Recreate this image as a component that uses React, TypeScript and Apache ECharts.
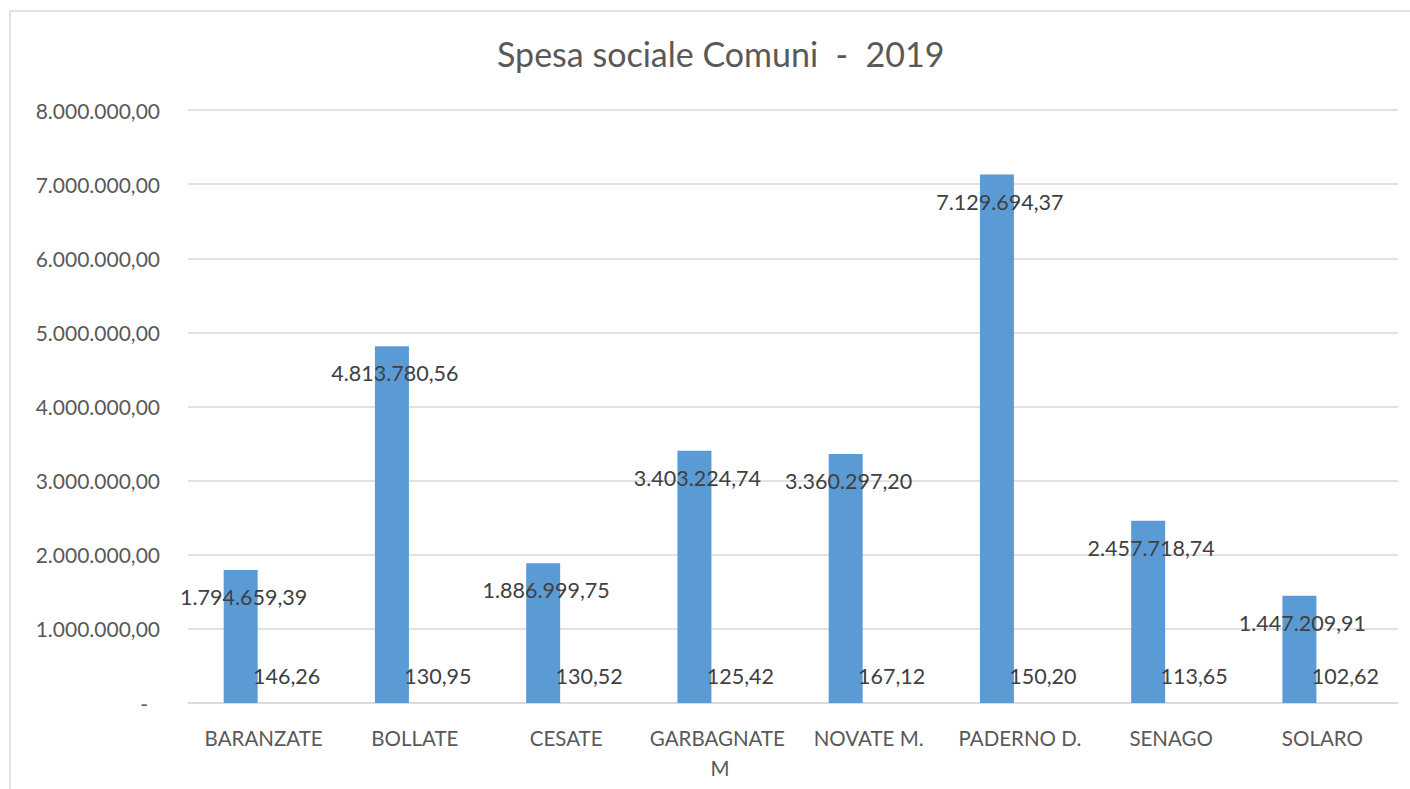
import React, { useEffect, useRef } from "react";
import * as echarts from "echarts";

const categories = [
  "BARANZATE",
  "BOLLATE",
  "CESATE",
  "GARBAGNATE M",
  "NOVATE M.",
  "PADERNO D.",
  "SENAGO",
  "SOLARO",
];
const spesaTotale = [
  1794659.39, 4813780.56, 1886999.75, 3403224.74, 3360297.2, 7129694.37,
  2457718.74, 1447209.91,
];
const spesaProCapite = [146.26, 130.95, 130.52, 125.42, 167.12, 150.2, 113.65, 102.62];
const titleText = "Spesa sociale Comuni  -  2019";

function fmtIt(v: number): string {
  const neg = v < 0;
  const abs = Math.abs(v);
  const fixed = abs.toFixed(2);
  const [ip, dp] = fixed.split(".");
  const withDots = ip.replace(/\B(?=(\d{3})+(?!\d))/g, ".");
  return (neg ? "-" : "") + withDots + "," + dp;
}

const FONT = "Lato, 'Liberation Sans', sans-serif";

export default function App() {
  const ref = useRef<HTMLDivElement>(null);
  useEffect(() => {
    if (!ref.current) return;
    const chart = echarts.init(ref.current, null, { renderer: "svg" });
    chart.setOption({
      animation: false,
      backgroundColor: "#ffffff",
      textStyle: { fontFamily: FONT },
      title: {
        text: titleText,
        left: 492,
        top: 31,
        textStyle: { fontFamily: FONT, fontSize: 34, fontWeight: "normal", color: "#595959" },
      },
      graphic: [
        {
          type: "rect",
          shape: { x: 10, y: 11, width: 1420, height: 800 },
          style: { fill: "none", stroke: "#d9d9d9", lineWidth: 1.5 },
          silent: true,
          z: -1,
        },
      ],
      grid: { left: 188, right: 12, top: 110, bottom: 86, containLabel: false },
      xAxis: {
        type: "category",
        data: categories,
        axisLine: { show: true, lineStyle: { color: "#d9d9d9", width: 1.5 } },
        axisTick: { show: false },
        axisLabel: {
          interval: 0,
          color: "#595959",
          fontSize: 20.5,
          fontFamily: FONT,
          margin: 20,
          width: 140,
          overflow: "break",
          lineHeight: 30,
        },
      },
      yAxis: {
        type: "value",
        min: 0,
        max: 8000000,
        interval: 1000000,
        axisLine: { show: false },
        axisTick: { show: false },
        splitLine: { lineStyle: { color: "#d9d9d9", width: 1.5 } },
        axisLabel: {
          color: "#595959",
          fontSize: 21,
          fontFamily: FONT,
          margin: 28,
          formatter: (v: number) => (v === 0 ? "{d|-}" : fmtIt(v)),
          rich: { d: { padding: [0, 12, 0, 0], fontSize: 21, color: "#595959" } },
        },
      },
      series: [
        {
          name: "Spesa totale",
          type: "bar",
          data: spesaTotale,
          barWidth: 34,
          barGap: "35%",
          itemStyle: { color: "#5b9bd5" },
          label: {
            show: true,
            position: "insideTop",
            distance: 16,
            offset: [3, 0],
            color: "#404040",
            fontSize: 21.5,
            fontFamily: FONT,
            formatter: (p: any) => fmtIt(p.value),
          },
          z: 2,
        },
        {
          name: "Spesa pro capite",
          type: "bar",
          data: spesaProCapite,
          barWidth: 34,
          itemStyle: { color: "#ed7d31" },
          label: {
            show: true,
            position: "top",
            distance: 16,
            color: "#404040",
            fontSize: 21.5,
            fontFamily: FONT,
            formatter: (p: any) => fmtIt(p.value),
          },
          z: 3,
        },
      ],
    });
    return () => chart.dispose();
  }, []);
  return (
    <div
      ref={ref}
      style={{ position: "fixed", left: 0, top: 0, width: 1410, height: 789 }}
    />
  );
}
